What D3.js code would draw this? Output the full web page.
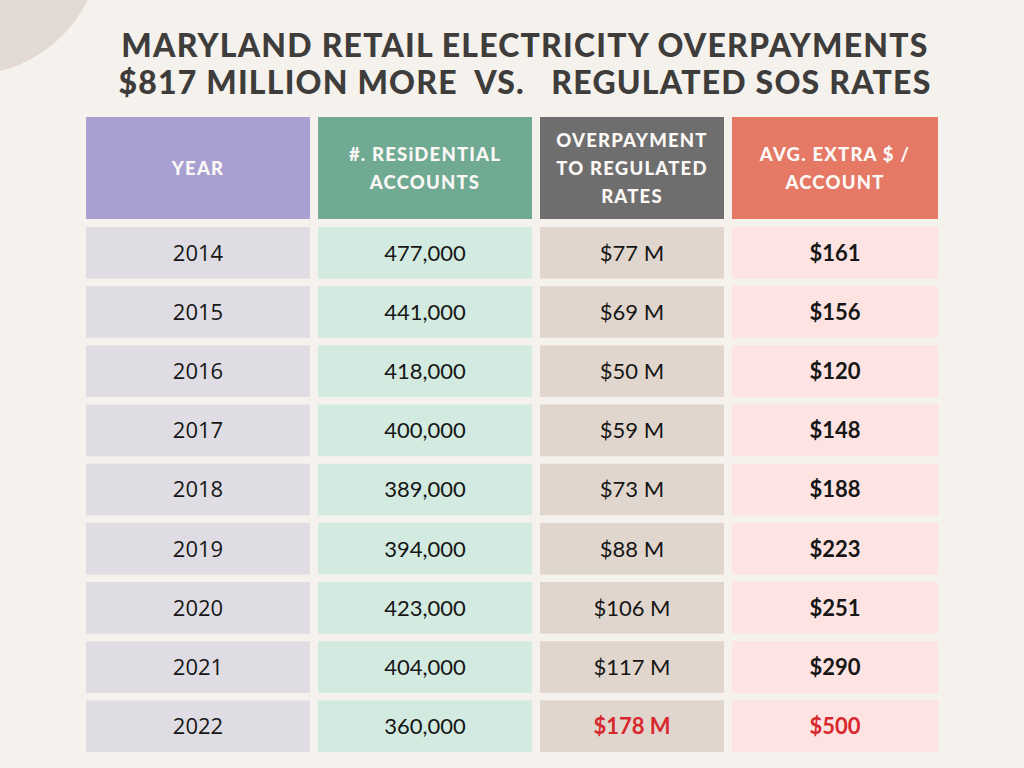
<!DOCTYPE html>
<html>

<head>
  <title>Maryland retail electricity overpayments</title>
  <style>
    body { margin: 0; background: #f5f2ed; }
  </style>
</head>

<body>

  <svg id="main" width="1024" height="768"></svg>

  <script src="https://cdn.jsdelivr.net/npm/d3@7"></script>
  <script>

    const years = ['2014', '2015', '2016', '2017', '2018', '2019', '2020', '2021', '2022']
    const accounts = [477000, 441000, 418000, 400000, 389000, 394000, 423000, 404000, 360000]
    const overpayment = [77, 69, 50, 59, 73, 88, 106, 117, 178]   // $ millions
    const avgExtra = [161, 156, 120, 148, 188, 223, 251, 290, 500]  // $ per account
    const headers = [
      ['YEAR'],
      ['#. RESiDENTIAL', 'ACCOUNTS'],
      ['OVERPAYMENT', 'TO REGULATED', 'RATES'],
      ['AVG. EXTRA $ /', 'ACCOUNT']
    ]
    const titleLines = [
      'MARYLAND RETAIL ELECTRICITY OVERPAYMENTS',
      '$817 MILLION MORE  VS.   REGULATED SOS RATES'
    ]
    const highlightYear = '2022'

    function getSvgInfo() {
      const svg = d3.select('#main')
      const width = +svg.attr('width')
      const height = +svg.attr('height')
      const config = {
        bg: '#f5f2ed',
        blob: '#e2dad3',
        titleColor: '#3e3d3c',
        textColor: '#161616',
        red: '#d8282e',
        columns: [
          { key: 'year', x0: 86, x1: 310, head: '#a8a0d3', body: '#dfdde3', font: "'Open Sans'", weight: 400 },
          { key: 'accounts', x0: 318, x1: 532, head: '#70aa93', body: '#d3eae0', font: 'Lato', weight: 400 },
          { key: 'overpay', x0: 540, x1: 724, head: '#6f6e6e', body: '#e1d6cd', font: 'Lato', weight: 400 },
          { key: 'extra', x0: 732, x1: 938, head: '#e57966', body: '#fde3e1', font: 'Lato', weight: 700 }
        ],
        header: { top: 117, bottom: 219, lineGap: 28, fontSize: '18.5px' },
        body: { top: 227, bottom: 752, fontSize: '22px' }
      }
      return { svg, width, height, config }
    }

    const { svg, width, height, config } = getSvgInfo()

    svg.append('rect').attr('width', width).attr('height', height).attr('fill', config.bg)

    // soft circle in the corner
    svg.append('circle')
      .attr('cx', -32).attr('cy', -58).attr('r', 133)
      .attr('fill', config.blob)

    // title
    svg.append('g').selectAll('text')
      .data(titleLines)
      .join('text')
      .text(d => d)
      .attr('x', width / 2 + 13)
      .attr('y', (d, i) => 57 + i * 37)
      .attr('text-anchor', 'middle')
      .attr('font-family', 'Lato, sans-serif')
      .attr('font-weight', 900)
      .attr('font-size', '32px')
      .attr('letter-spacing', '1.2px')
      .attr('fill', config.titleColor)
      .style('white-space', 'pre')

    const cols = config.columns
    const rows = years.map((y, i) => ({
      year: y,
      cells: [
        y,
        d3.format(',')(accounts[i]),
        `$${overpayment[i]} M`,
        `$${avgExtra[i]}`
      ]
    }))

    const yScale = d3.scaleBand()
      .domain(years)
      .range([config.body.top, config.body.bottom])
      .paddingInner(0.127)
      .paddingOuter(0)

    // header
    const head = svg.append('g').selectAll('g')
      .data(cols)
      .join('g')

    head.append('rect')
      .attr('x', d => d.x0)
      .attr('y', config.header.top)
      .attr('width', d => d.x1 - d.x0)
      .attr('height', config.header.bottom - config.header.top)
      .attr('fill', d => d.head)

    head.each(function (d, i) {
      const lines = headers[i]
      const mid = (config.header.top + config.header.bottom) / 2
      const first = mid - (lines.length - 1) * config.header.lineGap / 2
      d3.select(this).selectAll('text')
        .data(lines)
        .join('text')
        .text(t => t)
        .attr('x', (d.x0 + d.x1) / 2)
        .attr('y', (t, j) => first + j * config.header.lineGap + 7)
        .attr('text-anchor', 'middle')
        .attr('font-family', 'Lato, sans-serif')
        .attr('font-weight', 900)
        .attr('font-size', config.header.fontSize)
        .attr('letter-spacing', '1.2px')
        .attr('fill', '#fbf8f6')
    })

    // body rows
    const rowG = svg.append('g').selectAll('g')
      .data(rows)
      .join('g')
      .attr('transform', d => `translate(0,${yScale(d.year)})`)

    rowG.selectAll('rect')
      .data(d => cols)
      .join('rect')
      .attr('x', c => c.x0)
      .attr('width', c => c.x1 - c.x0)
      .attr('height', yScale.bandwidth())
      .attr('fill', c => c.body)

    rowG.selectAll('text')
      .data(d => d.cells.map((v, j) => ({ v, col: cols[j], hot: d.year === highlightYear && j >= 2 })))
      .join('text')
      .text(c => c.v)
      .attr('x', c => (c.col.x0 + c.col.x1) / 2)
      .attr('y', yScale.bandwidth() / 2 + 8)
      .attr('text-anchor', 'middle')
      .attr('font-family', c => `${c.col.font}, sans-serif`)
      .attr('font-weight', c => c.hot ? 700 : c.col.weight)
      .attr('font-size', config.body.fontSize)
      .attr('fill', c => c.hot ? config.red : config.textColor)

  </script>
</body>

</html>
